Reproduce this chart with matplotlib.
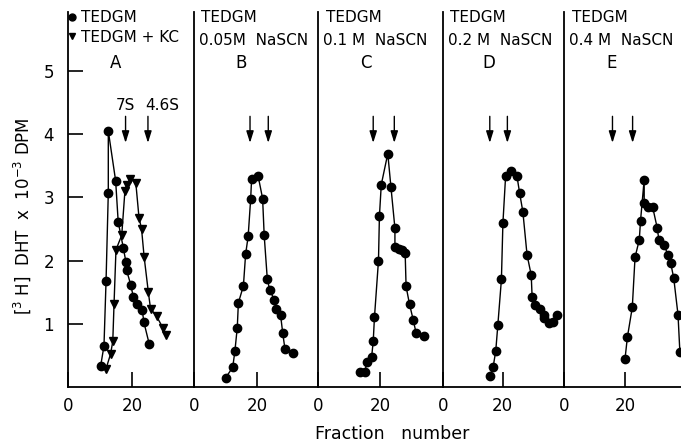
import matplotlib.pyplot as plt
from matplotlib.lines import Line2D

# panel A: TEDGM (circles) and TEDGM + KC (triangles)
a_circ_x = [10.2, 11.25, 11.9, 12.6, 12.6, 14.9, 15.7, 17.3, 18.1, 18.3, 19.6, 20.4, 21.5, 23.2, 23.75, 25.4]
a_circ_y = [0.33, 0.65, 1.68, 3.07, 4.05, 3.26, 2.61, 2.20, 1.98, 1.85, 1.62, 1.43, 1.32, 1.22, 1.02, 0.68]
a_tri_x = [11.9, 13.3, 14.0, 14.4, 15.0, 16.8, 17.8, 18.3, 19.4, 21.2, 22.2, 23.0, 23.8, 25.1, 25.8, 27.7, 29.6, 30.6]
a_tri_y = [0.29, 0.52, 0.72, 1.32, 2.17, 2.40, 3.10, 3.20, 3.29, 3.23, 2.68, 2.50, 2.06, 1.51, 1.24, 1.12, 0.94, 0.82]

b_x = [10.1, 12.3, 13.0, 13.75, 14.1, 15.7, 16.4, 17.2, 18.0, 18.3, 20.4, 21.8, 22.3, 23.3, 24.1, 25.5, 26.2, 27.5, 28.2, 28.9, 31.3]
b_y = [0.15, 0.31, 0.57, 0.94, 1.33, 1.60, 2.10, 2.38, 2.97, 3.29, 3.33, 2.98, 2.40, 1.70, 1.53, 1.38, 1.23, 1.14, 0.85, 0.60, 0.54]

c_x = [13.5, 15.2, 15.7, 17.3, 17.8, 18.2, 19.5, 19.8, 20.4, 22.5, 23.5, 24.8, 24.8, 26.1, 27.0, 28.1, 28.4, 29.5, 30.7, 31.6, 34.2]
c_y = [0.23, 0.24, 0.40, 0.48, 0.72, 1.10, 2.00, 2.70, 3.20, 3.69, 3.17, 2.51, 2.22, 2.19, 2.16, 2.12, 1.59, 1.31, 1.06, 0.86, 0.81]

d_x = [15.7, 16.8, 17.7, 18.4, 19.6, 20.1, 21.0, 22.9, 24.8, 25.7, 26.8, 28.2, 29.6, 29.9, 31.0, 32.6, 33.8, 34.0, 35.4, 36.8, 38.1]
d_y = [0.17, 0.31, 0.57, 0.98, 1.70, 2.59, 3.33, 3.41, 3.34, 3.07, 2.77, 2.09, 1.77, 1.43, 1.30, 1.23, 1.14, 1.09, 1.01, 1.02, 1.14]

e_x = [20.0, 20.8, 22.4, 23.3, 24.7, 25.1, 26.3, 26.3, 27.4, 29.1, 30.6, 31.1, 32.9, 34.0, 35.0, 36.0, 37.4, 38.0]
e_y = [0.44, 0.79, 1.26, 2.05, 2.33, 2.63, 3.28, 2.91, 2.84, 2.84, 2.51, 2.33, 2.25, 2.09, 1.96, 1.72, 1.14, 0.56]

# sedimentation markers (7S, 4.6S) per panel
arrows_x = [[18.0, 25.0], [17.8, 23.6], [17.8, 24.6], [15.7, 21.6], [15.9, 22.5]]
headers = ["", "0.05M  NaSCN", "0.1 M  NaSCN", "0.2 M  NaSCN", "0.4 M  NaSCN"]
letters = ["A", "B", "C", "D", "E"]

panel_left = [68, 194, 318, 443, 564]
panel_width = [126, 124, 125, 121, 125]
panel_xmax = [39.4, 39.4, 40.3, 40.6, 41.0]

W, H = 681, 444
fig = plt.figure(figsize=(W / 100, H / 100), dpi=100)
plt.rcParams['font.family'] = 'DejaVu Sans'

bottom = (H - 387) / H
height = (387 - 12) / H
series = [(a_circ_x, a_circ_y), (b_x, b_y), (c_x, c_y), (d_x, d_y), (e_x, e_y)]

axes = []
for i in range(5):
    ax = fig.add_axes([panel_left[i] / W, bottom, panel_width[i] / W, height])
    ax.set_xlim(0, panel_xmax[i])
    ax.set_ylim(0, 5.93)
    for s in ['top', 'right']:
        ax.spines[s].set_visible(False)
    for s in ['left', 'bottom']:
        ax.spines[s].set_linewidth(1.3)
    ax.set_xticks([0, 20])
    ax.set_xticklabels(['0', '20'])
    ax.tick_params(axis='x', direction='in', length=11, width=1.2, pad=7, labelsize=12)
    if i == 0:
        ax.set_yticks([1, 2, 3, 4, 5])
        ax.tick_params(axis='y', direction='in', length=11, width=1.2, pad=10, labelsize=12)
    else:
        ax.set_yticks([])

    x, y = series[i]
    ax.plot(x, y, '-o', color='black', lw=1.0, ms=6, zorder=3)
    if i == 0:
        ax.plot(a_tri_x, a_tri_y, '-v', color='black', lw=1.0, ms=6, zorder=3)

    for ax_x in arrows_x[i]:
        ax.annotate('', xy=(ax_x, 3.86), xytext=(ax_x, 4.28),
                    arrowprops=dict(arrowstyle='-|>,head_length=0.7,head_width=0.22',
                                    color='black', lw=1.0, shrinkA=0, shrinkB=0))

    if i == 0:
        handles = [Line2D([], [], marker='o', color='black', ls='', ms=5),
                   Line2D([], [], marker='v', color='black', ls='', ms=5)]
        ax.legend(handles, ['TEDGM', 'TEDGM + KC'], loc='upper left',
                  bbox_to_anchor=(-0.06, 1.025), frameon=False, fontsize=11,
                  handlelength=0.5, handletextpad=0.35, labelspacing=0.3,
                  borderaxespad=0.1)
        ax.text(18.0, 4.45, '7S', ha='center', va='center', fontsize=11)
        ax.text(29.4, 4.45, '4.6S', ha='center', va='center', fontsize=11)
    else:
        ax.text(0.06, 0.985, 'TEDGM', transform=ax.transAxes, ha='left', va='center', fontsize=11)
        ax.text(0.04, 0.925, headers[i], transform=ax.transAxes, ha='left', va='center', fontsize=11)
    ax.text(0.38, 0.865, letters[i], transform=ax.transAxes, ha='center', va='center', fontsize=12)
    axes.append(ax)

axes[0].set_ylabel(r'[$^3$ H]  DHT  x  10$^{-3}$ DPM', fontsize=12)
axes[0].yaxis.set_label_coords(-0.28, 0.455)
fig.text(392 / W, 1 - 433.5 / H, 'Fraction   number', ha='center', va='center', fontsize=12.5)

fig.savefig('out.png', dpi=100)
